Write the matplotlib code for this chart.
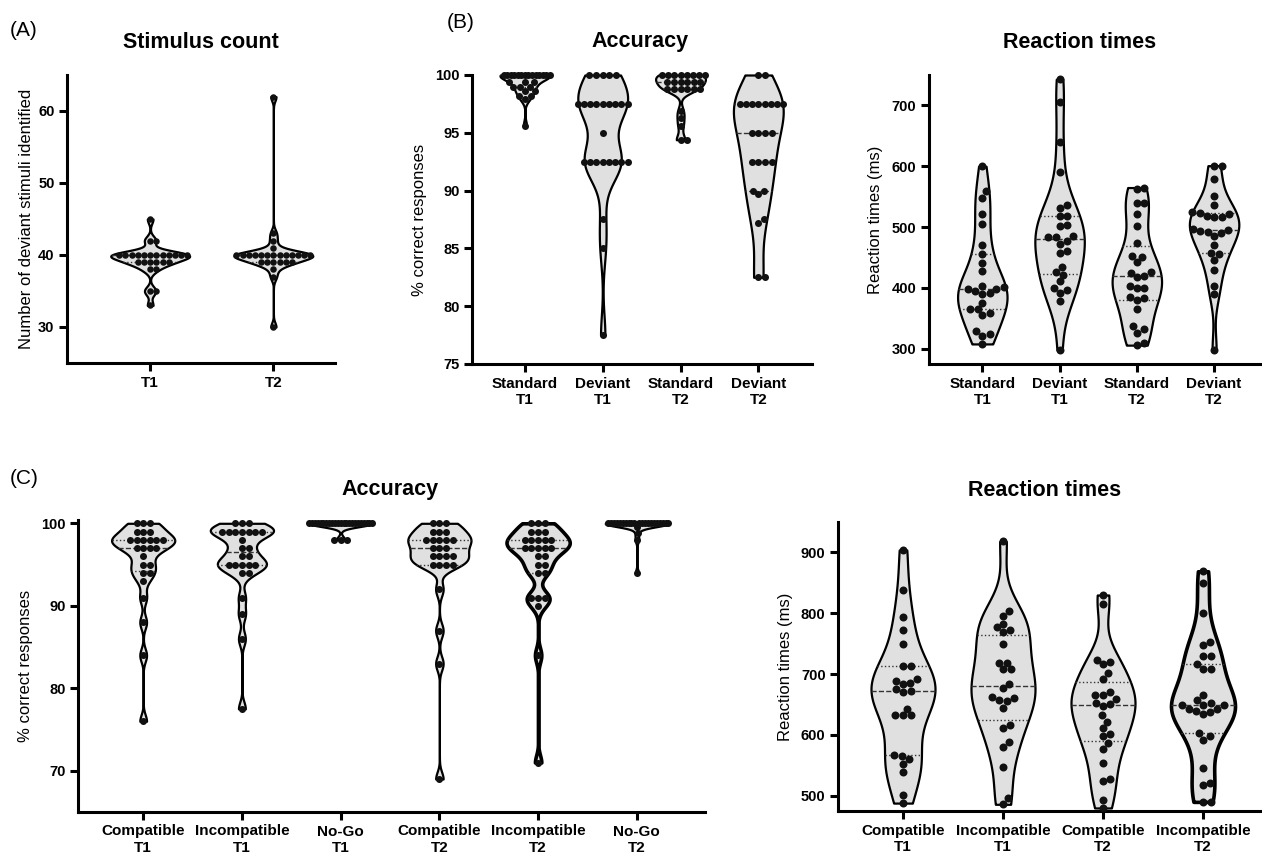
import matplotlib.pyplot as plt
import numpy as np

plt.rcParams['font.family'] = ['Liberation Sans', 'DejaVu Sans']

# ---- (A) stimulus count ----
count_labels = ["T1", "T2"]
count_t1 = [45, 42, 42, 40, 40, 40, 40, 40, 40, 40, 40, 40, 40, 40, 40,
            39, 39, 39, 39, 39, 39, 38, 38, 35, 35, 33]
count_t2 = [62, 43, 42, 41, 40, 40, 40, 40, 40, 40, 40, 40, 40, 40, 40, 40, 40,
            39, 39, 39, 39, 39, 39, 38, 37, 30]

# ---- (B) oddball accuracy ----
odd_labels = ["Standard\nT1", "Deviant\nT1", "Standard\nT2", "Deviant\nT2"]
std_t1_acc = [100, 100, 100, 100, 100, 100, 100, 100, 100, 100, 100, 100, 100, 100,
              99.4, 99.4, 99.4, 99.0, 99.0, 99.0, 98.6, 98.6, 98.2, 98.2, 97.9, 95.6]
dev_t1_acc = [100, 100, 100, 100, 100,
              97.5, 97.5, 97.5, 97.5, 97.5, 97.5, 97.5, 97.5, 97.5, 95,
              92.5, 92.5, 92.5, 92.5, 92.5, 92.5, 92.5, 92.5, 87.5, 85, 77.5]
std_t2_acc = [100, 100, 100, 100, 100, 100, 100, 100,
              99.4, 99.4, 99.4, 99.4, 99.4, 99.4, 98.8, 98.8, 98.8, 98.8, 98.8, 98.8,
              96.9, 96.3, 95.6, 94.4, 94.4]
dev_t2_acc = [100, 100, 97.5, 97.5, 97.5, 97.5, 97.5, 97.5, 97.5, 97.5,
              95, 95, 95, 95, 92.5, 92.5, 92.5, 92.5, 90, 90, 89.7, 87.5, 87.2, 82.5, 82.5]

# ---- (B) oddball reaction times (ms) ----
std_t1_rt = [600, 559, 548, 522, 505, 470, 456, 441, 428, 404, 401, 398, 395,
             390, 392, 398, 376, 366, 365, 359, 355, 329, 324, 321, 308]
dev_t1_rt = [743, 705, 640, 590, 537, 532, 519, 518, 503, 502, 485, 484, 484,
             477, 473, 460, 458, 435, 427, 422, 411, 400, 397, 392, 378, 298]
std_t2_rt = [565, 563, 540, 539, 522, 502, 474, 452, 451, 442, 427, 425, 420,
             418, 400, 400, 404, 385, 383, 380, 365, 337, 332, 326, 310, 306]
dev_t2_rt = [600, 601, 579, 551, 537, 524, 525, 521, 518, 516, 516, 497, 494,
             495, 492, 491, 485, 470, 458, 456, 446, 429, 403, 390, 298]

# ---- (C) flanker / go-no-go accuracy ----
flk_acc_labels = ["Compatible\nT1", "Incompatible\nT1", "No-Go\nT1",
                  "Compatible\nT2", "Incompatible\nT2", "No-Go\nT2"]
comp_t1_acc = [100, 100, 100, 99, 99, 99, 98, 98, 98, 98, 98, 98, 97, 97, 97, 97,
               96, 95, 95, 94, 94, 93, 91, 88, 84, 76]
inc_t1_acc = [100, 100, 100, 99, 99, 99, 99, 99, 99, 99, 98, 97, 97, 96, 96,
              95, 95, 95, 95, 95, 94, 94, 91, 89, 86, 77.5]
nogo_t1_acc = [100, 100, 100, 100, 100, 100, 100, 100, 100, 100, 100, 100,
               100, 100, 100, 100, 100, 100, 100, 100, 100, 100, 100, 98, 98, 98]
comp_t2_acc = [100, 100, 100, 99, 99, 99, 98, 98, 98, 98, 98, 97, 97, 97,
               96, 96, 96, 96, 95, 95, 95, 95, 92, 87, 83, 69]
inc_t2_acc = [100, 100, 100, 99, 99, 99, 98, 98, 98, 98, 98, 97, 97, 97, 97, 97,
              96, 96, 95, 95, 94, 94, 91, 91, 91, 90, 84, 71]
nogo_t2_acc = [100, 100, 100, 100, 100, 100, 100, 100, 100, 100, 100, 100,
               100, 100, 100, 100, 100, 100, 100, 100, 100, 99.6, 98.8, 98, 94]

# ---- (C) flanker reaction times (ms) ----
flk_rt_labels = ["Compatible\nT1", "Incompatible\nT1", "Compatible\nT2", "Incompatible\nT2"]
comp_t1_rt = [904, 838, 794, 772, 750, 714, 714, 688, 686, 683, 692, 675, 670,
              672, 643, 632, 632, 632, 567, 565, 560, 552, 539, 502, 488]
inc_t1_rt = [918, 803, 796, 783, 777, 770, 773, 750, 719, 719, 708, 708, 684,
             677, 663, 657, 660, 655, 644, 617, 611, 588, 580, 548, 496, 486]
comp_t2_rt = [830, 816, 724, 720, 717, 702, 692, 671, 666, 666, 659, 651, 652,
              648, 632, 622, 611, 602, 598, 587, 577, 554, 528, 525, 493, 480]
inc_t2_rt = [869, 849, 800, 752, 748, 729, 729, 716, 708, 708, 666, 657, 650,
             650, 652, 650, 638, 643, 640, 643, 635, 598, 592, 603, 545, 521, 517, 490, 490]

FILL = "#e0e0e0"
W, H = 1262, 858
fig = plt.figure(figsize=(W / 100, H / 100), dpi=100)


def px_axes(left, top, right, bottom):
    return fig.add_axes([left / W, 1 - bottom / H, (right - left) / W, (bottom - top) / H])


def kde(vals, grid, bw):
    z = (np.asarray(grid, float)[:, None] - np.asarray(vals, float)[None, :]) / bw
    return np.exp(-0.5 * z ** 2).sum(axis=1)


def scott(vals, f):
    v = np.asarray(vals, float)
    return f * 1.06 * v.std(ddof=1) * len(v) ** -0.2


def swarm(ypx, diam):
    xs = np.zeros(len(ypx))
    placed = []
    for i in np.argsort(ypx, kind="stable"):
        y = ypx[i]
        near = [(xs[j], ypx[j]) for j in placed if abs(ypx[j] - y) < diam]
        cands = [0.0]
        for xj, yj in near:
            dx = np.sqrt(diam ** 2 - (yj - y) ** 2)
            cands += [xj + dx, xj - dx]
        for c in sorted(cands, key=abs):
            if all((c - xj) ** 2 + (y - yj) ** 2 >= diam ** 2 - 1e-6 for xj, yj in near):
                xs[i] = c
                break
        placed.append(i)
    return xs


def violin(ax, pos, vals, bw, diam, lw=1.6, half=0.32):
    vals = np.asarray(vals, float)
    grid = np.linspace(vals.min(), vals.max(), 500)
    dens = kde(vals, grid, bw)
    scale = half / dens.max()
    hw = dens * scale
    ax.fill_betweenx(grid, pos - hw, pos + hw, facecolor=FILL, edgecolor="black",
                     lw=lw, zorder=2, clip_on=False)
    q1, med, q3 = np.percentile(vals, [25, 50, 75])
    for q, ls in ((q1, ":"), (med, "--"), (q3, ":")):
        w = kde(vals, [q], bw)[0] * scale
        ax.plot([pos - w, pos + w], [q, q], ls=ls, color="#333333", lw=1.0, zorder=3)

    t = ax.transData
    p0 = t.transform((0, 0))
    sx = t.transform((1, 0))[0] - p0[0]
    sy = t.transform((0, 1))[1] - p0[1]
    xs = swarm(vals * sy, diam * 0.95)
    lim = half * sx
    for v in np.unique(vals):
        m = vals == v
        mx = np.abs(xs[m]).max()
        if mx > lim:
            xs[m] *= lim / mx
    ax.plot(pos + xs / sx, vals, "o", ms=diam * 0.72, color="#111111", mew=0,
            zorder=4, clip_on=False)


def style(ax, xlim, ylim, yticks, labels, ylabel, labelpad):
    ax.set_xlim(*xlim)
    ax.set_ylim(*ylim)
    ax.set_yticks(yticks)
    ax.set_xticks(range(len(labels)))
    ax.set_xticklabels(labels, fontsize=11, fontweight="bold", linespacing=1.25)
    for lab in ax.get_yticklabels():
        lab.set_fontsize(10.5)
        lab.set_fontweight("bold")
    for s in ("top", "right"):
        ax.spines[s].set_visible(False)
    for s in ("left", "bottom"):
        ax.spines[s].set_linewidth(2.2)
    ax.tick_params(direction="out", length=6, width=2.2, pad=3)
    ax.set_ylabel(ylabel, fontsize=12, labelpad=labelpad)


# (A)
axA = px_axes(67, 75, 335, 363)
style(axA, (-0.675, 1.5), (25, 65), [30, 40, 50, 60], count_labels,
      "Number of deviant stimuli identified", 3)
for i, d in enumerate([count_t1, count_t2]):
    violin(axA, i, d, 0.6, 6.5)

# (B) accuracy
axB1 = px_axes(472, 75, 812, 364)
style(axB1, (-0.68, 3.69), (75, 100), [75, 80, 85, 90, 95, 100], odd_labels,
      "% correct responses", 6)
for i, (d, bw) in enumerate(zip([std_t1_acc, dev_t1_acc, std_t2_acc, dev_t2_acc],
                                [0.42, 1.75, 0.45, 2.1])):
    violin(axB1, i, d, bw, 7)

# (B) reaction times
axB2 = px_axes(929, 75, 1262, 364)
style(axB2, (-0.69, 3.62), (275, 750), [300, 400, 500, 600, 700], odd_labels,
      "Reaction times (ms)", 6)
for i, d in enumerate([std_t1_rt, dev_t1_rt, std_t2_rt, dev_t2_rt]):
    violin(axB2, i, d, scott(d, 0.75), 8)

# (C) accuracy
axC1 = px_axes(78, 520, 705, 812)
style(axC1, (-0.66, 5.69), (65, 100.4), [70, 80, 90, 100], flk_acc_labels,
      "% correct responses", 6)
for i, (d, bw, lw) in enumerate(zip(
        [comp_t1_acc, inc_t1_acc, nogo_t1_acc, comp_t2_acc, inc_t2_acc, nogo_t2_acc],
        [0.8, 0.85, 0.4, 0.85, 0.9, 0.4],
        [1.6, 1.6, 1.6, 1.6, 2.6, 1.6])):
    violin(axC1, i, d, bw, 7, lw=lw)

# (C) reaction times
axC2 = px_axes(838, 522, 1262, 811)
style(axC2, (-0.65, 3.59), (475, 950), [500, 600, 700, 800, 900], flk_rt_labels,
      "Reaction times (ms)", 6)
for i, (d, lw) in enumerate(zip([comp_t1_rt, inc_t1_rt, comp_t2_rt, inc_t2_rt],
                                [1.6, 1.6, 1.6, 2.6])):
    violin(axC2, i, d, scott(d, 0.7), 8, lw=lw)

# titles and panel letters
for x, y, s in [(201, 42, "Stimulus count"), (640, 42, "Accuracy"),
                (1080, 42, "Reaction times"), (390, 490, "Accuracy"),
                (1045, 490, "Reaction times")]:
    fig.text(x / W, 1 - y / H, s, ha="center", va="center", fontsize=15.5, fontweight="bold")
for x, y, s in [(10, 30, "(A)"), (447, 22, "(B)"), (10, 478, "(C)")]:
    fig.text(x / W, 1 - y / H, s, ha="left", va="center", fontsize=15)

fig.savefig("out.png", dpi=100)
